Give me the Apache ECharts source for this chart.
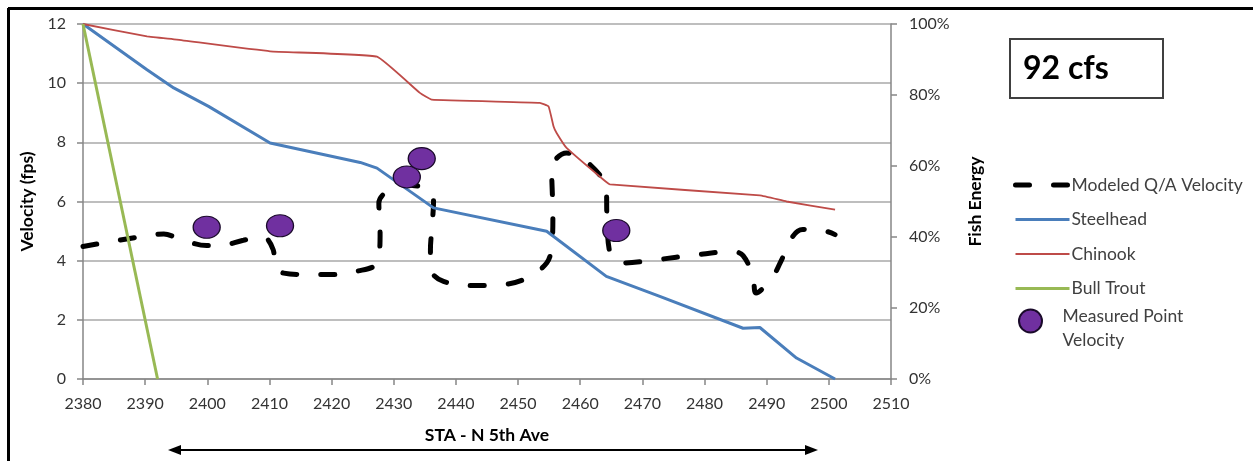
<!DOCTYPE html>
<html>
<head>
<meta charset="utf-8">
<script src="https://cdn.jsdelivr.net/npm/echarts@6/dist/echarts.min.js"></script>
<style>
html,body{margin:0;padding:0;background:#fff;}
#chart{width:1253px;height:461px;}
</style>
</head>
<body>
<div id="chart"></div>
<script>
// ---- Data ----
// Station (STA - N 5th Ave)
const qaX = [2380, 2389.6, 2393, 2395.6, 2399.9, 2402.1, 2405.8, 2409, 2410.6, 2410.9, 2412.3, 2416, 2420.3, 2424, 2427.3, 2427.8, 2427.6, 2429.7, 2432, 2435.6, 2436.4, 2436.1, 2435.9, 2436.1, 2438, 2442.8, 2447.6, 2451.4, 2454.6, 2455.4, 2455.6, 2455.4, 2457.8, 2461.6, 2464.2, 2464.3, 2464.8, 2466.9, 2472.2, 2478.7, 2484.6, 2486.2, 2487.8, 2488.3, 2491, 2492.4, 2494.2, 2495.8, 2499.6, 2501];
// Modeled Q/A Velocity (fps)
const qaVel = [4.48, 4.82, 4.9, 4.73, 4.51, 4.51, 4.69, 4.8, 4.37, 3.81, 3.58, 3.53, 3.53, 3.64, 3.92, 4.94, 5.95, 6.46, 6.55, 6.4, 6.0, 5.05, 4.37, 3.64, 3.3, 3.16, 3.19, 3.41, 3.92, 4.48, 5.5, 7.13, 7.64, 7.24, 6.4, 5.5, 4.26, 3.92, 4.03, 4.2, 4.31, 4.17, 3.47, 2.91, 3.47, 4.03, 4.82, 5.05, 4.99, 4.88];

// Steelhead fish energy (%)
const steelX = [2380, 2390.3, 2394.6, 2400.2, 2410.1, 2424.6, 2427.3, 2436.4, 2454.6, 2464.2, 2472.8, 2486.2, 2488.9, 2494.8, 2501];
const steelPct = [100, 87.1, 82, 76.8, 66.5, 61, 59.4, 48.2, 41.6, 28.9, 23.3, 14.3, 14.5, 5.9, 0];

// Chinook fish energy (%)
const chinookX = [2380, 2390.3, 2395.1, 2410.1, 2427.3, 2434.2, 2436.1, 2453.5, 2454.9, 2455.7, 2456.2, 2457.8, 2463.7, 2464.8, 2488.9, 2493.2, 2501];
const chinookPct = [100, 96.5, 95.6, 92.3, 90.8, 80.6, 78.7, 77.8, 76.8, 71.2, 69.3, 65.1, 56.2, 54.8, 51.7, 50, 47.7];

// Bull Trout fish energy (%)
const bullX = [2380, 2392];
const bullPct = [100, 0];

// Measured Point Velocity (fps)
const measX = [2399.9, 2411.7, 2432.1, 2434.5, 2465.8];
const measVel = [5.13, 5.18, 6.83, 7.45, 5.02];

// Axis ticks
const xTicks = {min: 2380, max: 2510, interval: 10};
const velTicks = {min: 0, max: 12, interval: 2};
const pctTicks = {min: 0, max: 100, interval: 20};

const flowLabel = '92 cfs';

// ---- Build chart ----
const zip = (xs, ys) => xs.map((x, i) => [x, ys[i]]);
const FONT = 'Lato';
const chart = echarts.init(document.getElementById('chart'), null, {renderer: 'canvas'});

const axisGray = '#868686';
const noSym = {color: 'rgba(0,0,0,0)', borderColor: 'rgba(0,0,0,0)', borderWidth: 0};
const legendText = {fontFamily: FONT, fontSize: 17.5, color: '#404040', lineHeight: 24};
const option = {
  animation: false,
  backgroundColor: '#fff',
  textStyle: {fontFamily: FONT},
  grid: {left: 83, right: 362, top: 24, bottom: 82, containLabel: false},
  legend: [
    {
      orient: 'vertical',
      left: 1013,
      top: 173,
      padding: 0,
      itemWidth: 54,
      itemHeight: 22,
      itemGap: 10.5,
      lineStyle: {width: 'inherit'},
      textStyle: Object.assign({padding: [0, 0, 0, -3]}, legendText),
      data: [
        {name: 'Modeled Q/A Velocity', itemStyle: noSym},
        {name: 'Steelhead', itemStyle: noSym},
        {name: 'Chinook', itemStyle: noSym},
        {name: 'Bull Trout', itemStyle: noSym}
      ]
    },
    {
      orient: 'vertical',
      left: 1018,
      top: 296,
      padding: 0,
      itemWidth: 28,
      itemHeight: 23,
      symbolKeepAspect: false,
      formatter: name => '{s| }\n' + name.split('\n').map(t => '{t|' + t + '}').join('\n'),
      textStyle: {
        padding: [0, 0, 0, 13],
        rich: {
          s: {fontSize: 2, lineHeight: 14},
          t: legendText
        }
      },
      data: [{name: 'Measured Point\nVelocity', icon: 'circle'}]
    }
  ],
  xAxis: {
    type: 'value',
    min: xTicks.min, max: xTicks.max, interval: xTicks.interval,
    name: 'STA - N 5th Ave',
    nameLocation: 'middle',
    nameGap: 47,
    nameTextStyle: {fontFamily: FONT, fontWeight: 'bold', fontSize: 17.5, color: '#000'},
    axisLine: {show: true, onZero: false, lineStyle: {color: axisGray, width: 1.5}},
    axisTick: {show: true, length: 6, lineStyle: {color: axisGray, width: 1.5}},
    axisLabel: {fontFamily: FONT, fontSize: 16, color: '#333', margin: 17, formatter: v => String(v)},
    splitLine: {show: false}
  },
  yAxis: [
    {
      type: 'value',
      min: velTicks.min, max: velTicks.max, interval: velTicks.interval,
      name: 'Velocity (fps)',
      nameLocation: 'middle',
      nameRotate: 90,
      nameGap: 46,
      nameTextStyle: {fontFamily: FONT, fontWeight: 'bold', fontSize: 17.5, color: '#000'},
      axisLine: {show: true, lineStyle: {color: axisGray, width: 1.5}},
      axisTick: {show: true, length: 6, lineStyle: {color: axisGray, width: 1.5}},
      axisLabel: {fontFamily: FONT, fontSize: 16, color: '#333', margin: 17},
      splitLine: {show: true, lineStyle: {color: '#a8a8a8', width: 1.5}}
    },
    {
      type: 'value',
      position: 'right',
      min: pctTicks.min, max: pctTicks.max, interval: pctTicks.interval,
      name: 'Fish Energy',
      nameLocation: 'middle',
      nameRotate: 90,
      nameGap: 75,
      nameTextStyle: {fontFamily: FONT, fontWeight: 'bold', fontSize: 17.5, color: '#000'},
      axisLine: {show: true, lineStyle: {color: axisGray, width: 1.5}},
      axisTick: {show: true, length: 6, lineStyle: {color: axisGray, width: 1.5}},
      axisLabel: {fontFamily: FONT, fontSize: 16, color: '#333', margin: 18, formatter: '{value}%'},
      splitLine: {show: false}
    }
  ],
  series: [
    {
      name: 'Modeled Q/A Velocity',
      type: 'line',
      yAxisIndex: 0,
      data: zip(qaX, qaVel),
      symbol: 'none',
      smooth: 0.35,
      z: 2,
      lineStyle: {color: '#000', width: 5, type: [14, 24], cap: 'round'},
      itemStyle: {color: '#000'}
    },
    {
      name: 'Steelhead',
      type: 'line',
      yAxisIndex: 1,
      data: zip(steelX, steelPct),
      symbol: 'none',
      z: 3,
      lineStyle: {color: '#4a7ebb', width: 3},
      itemStyle: {color: '#4a7ebb'}
    },
    {
      name: 'Chinook',
      type: 'line',
      yAxisIndex: 1,
      data: zip(chinookX, chinookPct),
      symbol: 'none',
      smooth: 0.1,
      z: 3,
      lineStyle: {color: '#be4b48', width: 1.8},
      itemStyle: {color: '#be4b48'}
    },
    {
      name: 'Bull Trout',
      type: 'line',
      yAxisIndex: 1,
      data: zip(bullX, bullPct),
      symbol: 'none',
      z: 3,
      lineStyle: {color: '#98b954', width: 3},
      itemStyle: {color: '#98b954'}
    },
    {
      name: 'Measured Point\nVelocity',
      type: 'scatter',
      yAxisIndex: 0,
      data: zip(measX, measVel),
      symbol: 'circle',
      symbolSize: [27, 22],
      z: 5,
      itemStyle: {color: '#7030a0', borderColor: '#1a0a2a', borderWidth: 1.2, opacity: 1}
    }
  ],
  graphic: [
    // outer frame (top and left edges visible)
    {type: 'line', shape: {x1: 8, y1: 8.5, x2: 1253, y2: 8.5}, style: {stroke: '#000', lineWidth: 3}, z: 10},
    {type: 'line', shape: {x1: 8.5, y1: 8, x2: 8.5, y2: 461}, style: {stroke: '#000', lineWidth: 3}, z: 10},
    // flow box
    {type: 'rect', shape: {x: 1010, y: 39, width: 153, height: 59}, style: {fill: '#fff', stroke: '#404040', lineWidth: 2}, z: 10},
    {type: 'text', x: 1023, y: 69, style: {text: flowLabel, font: 'bold 32px Lato', fill: '#000', verticalAlign: 'middle', textAlign: 'left'}, z: 11},
    // direction arrow
    {type: 'line', shape: {x1: 176, y1: 450, x2: 810, y2: 450}, style: {stroke: '#000', lineWidth: 2}, z: 10},
    {type: 'polygon', shape: {points: [[168, 450], [181, 445], [181, 455]]}, style: {fill: '#000'}, z: 10},
    {type: 'polygon', shape: {points: [[818, 450], [805, 445], [805, 455]]}, style: {fill: '#000'}, z: 10}
  ]
};
chart.setOption(option);
</script>
</body>
</html>
